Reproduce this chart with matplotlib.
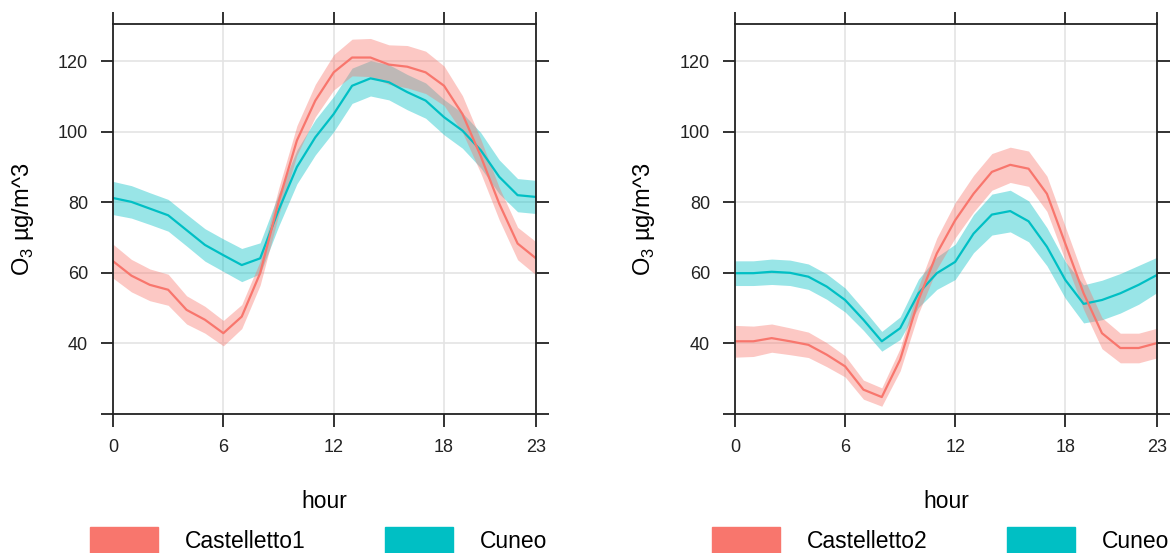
import matplotlib
matplotlib.use("Agg")
import matplotlib.pyplot as plt
from matplotlib.patches import Rectangle
import numpy as np

plt.rcParams['font.family'] = ['Liberation Sans', 'DejaVu Sans']
plt.rcParams['mathtext.fontset'] = 'custom'
plt.rcParams['mathtext.rm'] = 'Liberation Sans'

RED = '#F8766D'
TEAL = '#00BFC4'

hours = list(range(24))

# site 1 vs Cuneo (hourly mean + CI half width)
castelletto1 = [63.3, 59.2, 56.6, 55.2, 49.5, 46.7, 42.9, 47.6, 59.9, 80.0, 97.5, 108.8,
                116.8, 121.0, 121.0, 119.0, 118.4, 116.8, 113.0, 105.0, 93.0, 79.6, 68.3, 64.1]
ci_castelletto1 = [4.8, 4.6, 4.5, 4.4, 4.0, 3.8, 3.6, 3.4, 3.4, 3.8, 4.2, 4.6,
                   5.0, 5.2, 5.4, 5.6, 6.0, 6.0, 5.6, 5.2, 4.8, 4.6, 4.6, 4.7]
cuneo1 = [81.2, 80.1, 78.2, 76.3, 72.1, 67.9, 65.0, 62.2, 64.1, 77.7, 90.0, 98.4,
          105.0, 113.0, 115.1, 114.0, 111.2, 108.8, 104.1, 100.3, 94.7, 87.2, 82.0, 81.5]
ci_cuneo1 = [4.7, 4.6, 4.5, 4.5, 4.5, 4.6, 4.6, 4.7, 4.4, 4.6, 4.8, 5.0,
             5.0, 5.0, 5.0, 5.0, 5.0, 5.0, 5.0, 5.0, 5.0, 4.8, 4.7, 4.7]

# site 2 vs Cuneo
castelletto2 = [40.6, 40.6, 41.5, 40.6, 39.6, 36.8, 33.5, 26.9, 24.8, 35.4, 52.3, 65.5,
                74.9, 82.4, 88.6, 90.6, 89.5, 82.4, 68.3, 54.2, 42.9, 38.7, 38.7, 40.1]
ci_castelletto2 = [4.5, 4.3, 4.0, 3.8, 3.6, 3.4, 3.0, 2.7, 2.6, 3.2, 3.8, 4.4,
                   5.0, 5.2, 5.2, 5.0, 5.0, 5.0, 4.8, 4.6, 4.4, 4.2, 4.2, 4.2]
cuneo2 = [59.9, 59.9, 60.3, 60.0, 58.9, 56.1, 52.3, 46.7, 40.6, 44.3, 54.2, 59.9,
          63.1, 71.1, 76.5, 77.5, 74.6, 67.4, 58.0, 51.2, 52.3, 54.2, 56.6, 59.4]
ci_cuneo2 = [3.5, 3.5, 3.6, 3.6, 3.6, 3.6, 3.4, 3.0, 2.8, 3.2, 4.0, 4.6,
             5.0, 5.4, 5.8, 5.9, 5.8, 5.4, 5.2, 5.4, 5.6, 5.6, 5.5, 5.0]

W, H = 1176, 553
fig = plt.figure(figsize=(W / 100, H / 100), dpi=100)

panels = [
    (113, 536, 36, castelletto1, ci_castelletto1, cuneo1, ci_cuneo1, 'Castelletto1'),
    (735, 1157, 657, castelletto2, ci_castelletto2, cuneo2, ci_cuneo2, 'Castelletto2'),
]
top, bottom = 24, 414

for x0, x1, ylab_x, site, ci_site, cun, ci_cun, name in panels:
    ax = fig.add_axes([x0 / W, 1 - bottom / H, (x1 - x0) / W, (bottom - top) / H])
    h = np.array(hours)
    s, cs = np.array(site), np.array(ci_site)
    c, cc = np.array(cun), np.array(ci_cun)
    ax.fill_between(h, c - cc, c + cc, color=TEAL, alpha=0.4, lw=0)
    ax.fill_between(h, s - cs, s + cs, color=RED, alpha=0.4, lw=0)
    ax.plot(h, c, color=TEAL, lw=1.6)
    ax.plot(h, s, color=RED, lw=1.6)

    ax.set_xlim(0, 23)
    ax.set_ylim(20, 130.5)
    ax.set_xticks([0, 6, 12, 18, 23])
    ax.set_yticks([20, 40, 60, 80, 100, 120])
    ax.set_yticklabels(['', '40', '60', '80', '100', '120'])
    ax.grid(True, color='#e4e4e4', lw=1.2)
    ax.set_axisbelow(True)
    ax.tick_params(direction='out', length=9, width=1.3, colors='#222222',
                   labelsize=13, top=True, right=True, pad=9)
    for sp in ax.spines.values():
        sp.set_linewidth(1.3)
        sp.set_color('#222222')

    ax.set_xlabel('hour', fontsize=16.5)
    ax.xaxis.set_label_coords(0.5, -(490 - bottom) / (bottom - top))
    ax.set_ylabel('O$_3$ µg/m^3', fontsize=17)
    ax.yaxis.set_label_coords(-(x0 - ylab_x) / (x1 - x0), 0.5)

    # legend strip under each panel
    lx = x0 - 23
    for i, (col, lab) in enumerate([(RED, name), (TEAL, 'Cuneo')]):
        px = lx + i * 295
        fig.patches.append(Rectangle((px / W, 0), 68 / W, 26 / H, color=col,
                                     transform=fig.transFigure, figure=fig))
        fig.text((px + 95) / W, 1 - 542 / H, lab, fontsize=16.5, va='center', ha='left')

fig.savefig('out.png', dpi=100)
